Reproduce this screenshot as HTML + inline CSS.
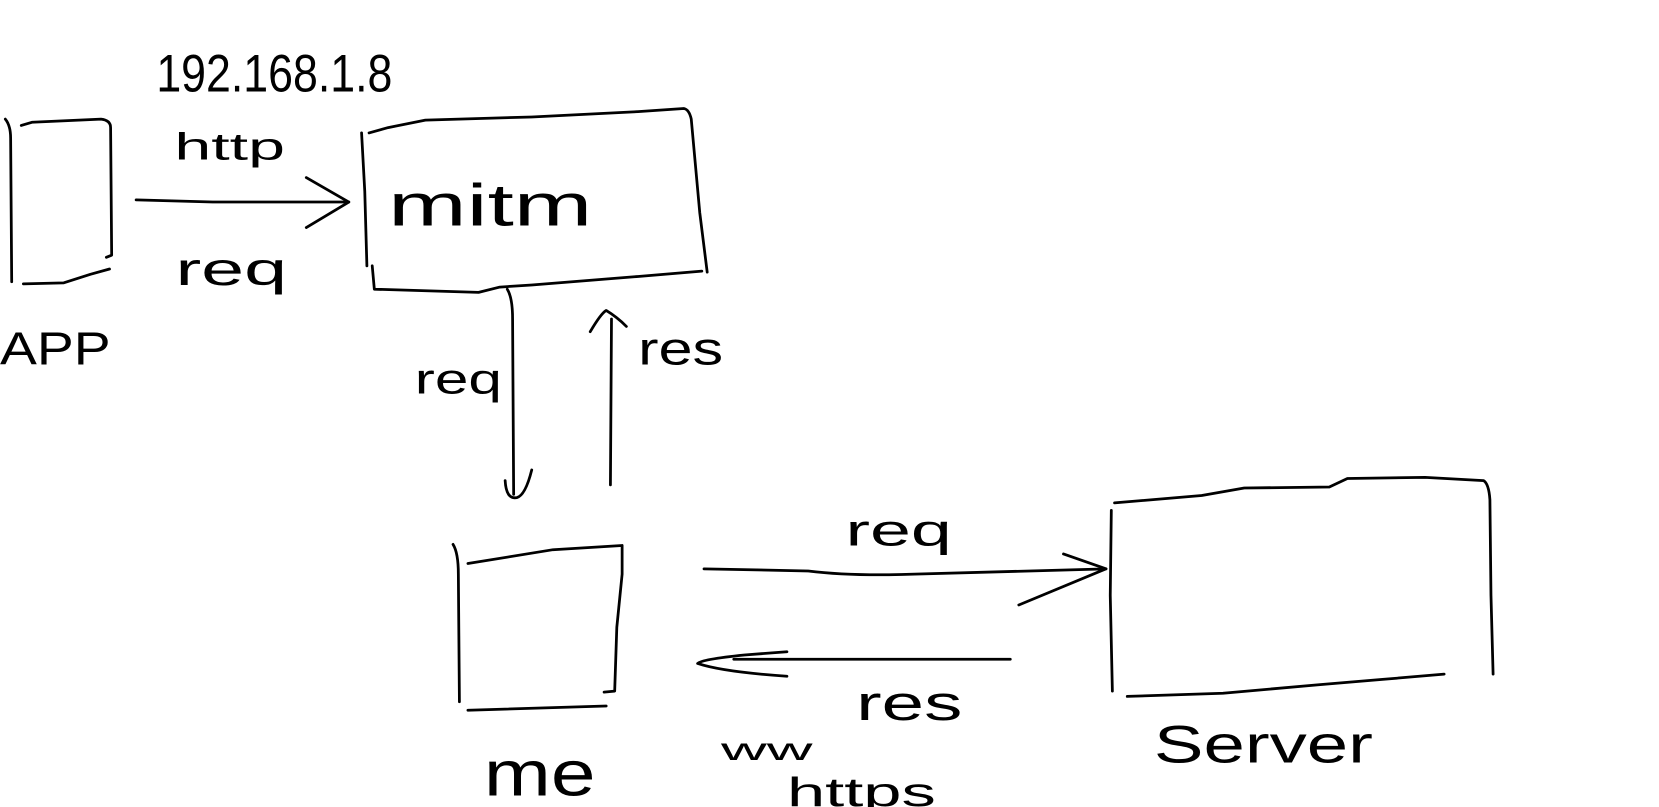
<!DOCTYPE html>
<html><head><meta charset="utf-8"><style>
html,body{margin:0;padding:0;background:#fff;}
svg{display:block}
text{font-family:"Liberation Sans",sans-serif;fill:#000;font-weight:normal;}
</style></head><body>
<svg width="1659" height="807" viewBox="0 0 1560 759" preserveAspectRatio="none" xmlns="http://www.w3.org/2000/svg">
<g fill="none" stroke="#000" stroke-width="2.6" stroke-linecap="round" stroke-linejoin="round">
<path d="M5,112 Q10,118 10,130 L11,265"/>
<path d="M20,118 L30,115 L95,112 Q104,113 104,120 L105,240 L100,242"/>
<path d="M22,267 L60,266 L85,258 L103,253"/>
<path d="M128,188 L200,190 L328,190"/>
<path d="M288,167 L328,190 L288,214"/>
<path d="M340,125 L343,180 L345,250"/>
<path d="M347,125 L365,120 L400,113 L500,110 L600,105 L643,102 Q648,103 650,112 L658,200 L665,256"/>
<path d="M350,250 L352,272 L450,275 L470,270 L500,268 L600,260 L660,255"/>
<path d="M477,272 Q482,280 482,300 L483,465"/>
<path d="M475,452 Q476,470 486,468 Q494,466 500,442"/>
<path d="M574,456 L575,300"/>
<path d="M555,312 Q565,295 570,292 Q580,298 589,307"/>
<path d="M426,512 Q431,520 431,540 L432,660"/>
<path d="M440,530 L520,517 L585,513 L585,540 L580,590 L578,650 L568,651"/>
<path d="M440,668 L570,664"/>
<path d="M662,535 L760,537 Q800,542 860,540 L1040,535"/>
<path d="M1000,521 L1040,535 L958,569"/>
<path d="M950,620 L780,620 L690,620"/>
<path d="M740,613 L700,616 Q660,620 656,624 Q680,632 740,636"/>
<path d="M1045,480 L1044,560 L1046,650"/>
<path d="M1048,473 L1130,466 L1170,459 L1250,458 L1267,450 L1340,449 L1395,452 Q1400,455 1401,470 L1402,560 L1404,634"/>
<path d="M1060,655 L1150,652 L1240,644 L1300,639 L1358,634"/>
</g>
<text x="147" y="86" font-size="50" textLength="222" lengthAdjust="spacingAndGlyphs">192.168.1.8</text>
<text x="164" y="150" font-size="36" textLength="104" lengthAdjust="spacingAndGlyphs">http</text>
<text x="165" y="268" font-size="44" textLength="105" lengthAdjust="spacingAndGlyphs">req</text>
<text x="0" y="343" font-size="44" textLength="104" lengthAdjust="spacingAndGlyphs">APP</text>
<text x="365" y="212" font-size="56" textLength="192" lengthAdjust="spacingAndGlyphs">mitm</text>
<text x="390" y="370" font-size="40" textLength="82" lengthAdjust="spacingAndGlyphs">req</text>
<text x="600" y="343" font-size="44" textLength="80" lengthAdjust="spacingAndGlyphs">res</text>
<text x="455" y="748" font-size="60" textLength="105" lengthAdjust="spacingAndGlyphs">me</text>
<text x="795" y="513" font-size="42" textLength="100" lengthAdjust="spacingAndGlyphs">req</text>
<text x="805" y="677" font-size="46" textLength="100" lengthAdjust="spacingAndGlyphs">res</text>
<text x="678" y="715" font-size="30" textLength="86" lengthAdjust="spacingAndGlyphs">ww</text>
<text x="740" y="758" font-size="38" textLength="140" lengthAdjust="spacingAndGlyphs">https</text>
<text x="1085" y="717" font-size="50" textLength="206" lengthAdjust="spacingAndGlyphs">Server</text>
</svg>
</body></html>
